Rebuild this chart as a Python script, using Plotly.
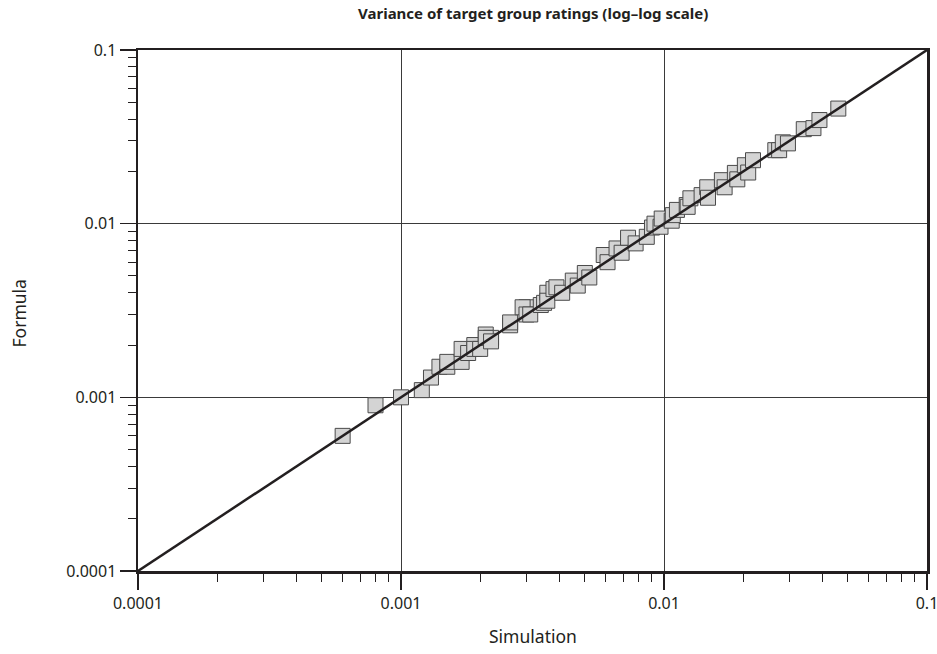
import plotly.graph_objects as go

# Simulation (x) and Formula (y) variance values
simulation = [0.0006, 0.0008, 0.001, 0.0012, 0.0013, 0.0014, 0.0015, 0.0015, 0.0017, 0.0017,
              0.0018, 0.0019, 0.0019, 0.002, 0.0021, 0.0022, 0.0021, 0.0022, 0.0026, 0.0026,
              0.003, 0.0029, 0.003, 0.0031, 0.0034, 0.0035, 0.0036, 0.0036, 0.0038, 0.0039,
              0.0041, 0.0045, 0.0047, 0.005, 0.0052, 0.0059, 0.0061, 0.0066, 0.0069, 0.0073,
              0.0078, 0.0086, 0.009, 0.0092, 0.0097, 0.0098, 0.0107, 0.0108, 0.0112, 0.0122,
              0.0123, 0.0126, 0.0139, 0.0146, 0.0147, 0.0166, 0.017, 0.0186, 0.019, 0.0203,
              0.0209, 0.0218, 0.0265, 0.0274, 0.0283, 0.0296, 0.034, 0.037, 0.039, 0.046]
formula = [0.0006, 0.0009, 0.001, 0.0011, 0.0013, 0.0015, 0.0015, 0.0016, 0.0016, 0.0019,
           0.0018, 0.002, 0.0019, 0.0019, 0.0023, 0.0022, 0.0022, 0.0021, 0.0026, 0.0027,
           0.0033, 0.0033, 0.003, 0.003, 0.0034, 0.0035, 0.004, 0.0036, 0.0042, 0.0043,
           0.004, 0.0047, 0.0044, 0.0052, 0.0049, 0.0066, 0.006, 0.0072, 0.0068, 0.0083,
           0.0077, 0.0084, 0.0095, 0.01, 0.0096, 0.0107, 0.0104, 0.0112, 0.012, 0.0128,
           0.0125, 0.014, 0.0146, 0.0162, 0.0141, 0.0178, 0.0162, 0.0196, 0.018, 0.0217,
           0.0197, 0.0232, 0.0265, 0.0265, 0.0294, 0.029, 0.035, 0.0355, 0.0395, 0.046]

# Reference line y = x
ref_line = [0.0001, 0.1]

tick_vals = [0.0001, 0.001, 0.01, 0.1]
tick_text = ["0.0001", "0.001", "0.01", "0.1"]
minor_digits = [2, 3, 4, 5, 6, 7, 8, 9]
minor_vals = [d * t for t in tick_vals[:-1] for d in minor_digits]

title_text = "<b>Variance of target group ratings (log–log scale)</b>"
x_title = "Simulation"
y_title = "Formula"

FONT = "Noto Sans"
INK = "#231f20"

fig = go.Figure()
fig.add_trace(go.Scatter(
    x=simulation, y=formula, mode="markers",
    marker=dict(symbol="square", size=15, color="#d4d4d4",
                line=dict(color="#4a4a4a", width=1)),
    showlegend=False, cliponaxis=False))
fig.add_trace(go.Scatter(
    x=ref_line, y=ref_line, mode="lines",
    line=dict(color=INK, width=2.5), showlegend=False))

axis_common = dict(
    type="log", range=[-4, -1], automargin=False,
    tickvals=tick_vals, ticktext=tick_text,
    ticks="outside", ticklen=16, tickwidth=1.5, tickcolor=INK,
    ticklabeloverflow="allow",
    showgrid=True, gridcolor="#3a3a3a", gridwidth=1,
    showline=True, linecolor=INK, linewidth=2.5, mirror=True,
    zeroline=False,
    tickfont=dict(family=FONT, size=16, color=INK),
    minor=dict(tickvals=minor_vals, ticks="outside", ticklen=8, tickwidth=1,
               tickcolor=INK, showgrid=False),
)

fig.update_xaxes(**axis_common)
fig.update_yaxes(**axis_common)

fig.add_annotation(text=title_text, xref="paper", yref="paper", x=0.5, y=1.071,
                   xanchor="center", yanchor="middle", showarrow=False,
                   font=dict(family=FONT, size=15, color=INK))
fig.add_annotation(text=x_title, xref="paper", yref="paper", x=0.5, y=-0.125,
                   xanchor="center", yanchor="middle", showarrow=False,
                   font=dict(family=FONT, size=17.5, color=INK))
fig.add_annotation(text=y_title, xref="paper", yref="paper", x=-0.151, y=0.494,
                   xanchor="center", yanchor="middle", showarrow=False, textangle=-90,
                   font=dict(family=FONT, size=17.5, color=INK))

fig.update_layout(
    width=937, height=654,
    margin=dict(l=138, r=10, t=50, b=83),
    plot_bgcolor="white", paper_bgcolor="white",
    font=dict(family=FONT, color=INK),
    hovermode=False,
)

fig.write_html("out.html",
               config={"displayModeBar": False, "staticPlot": True},
               post_script="document.body.style.margin='0';document.body.style.overflow='hidden';")
